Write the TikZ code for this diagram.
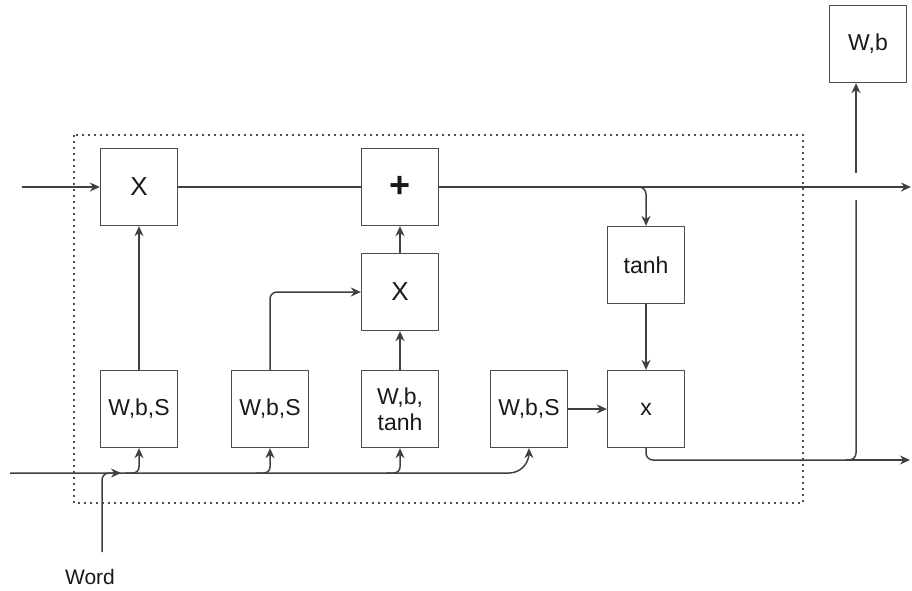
\documentclass[tikz,border=0pt]{standalone}
\usepackage{fontspec}
\setmainfont{Liberation Sans}
\usetikzlibrary{arrows.meta}

\begin{document}
\begin{tikzpicture}[
    x=1pt, y=-1pt,
    every node/.style={font=\fontsize{23}{26}\selectfont, text=black!90},
    box/.style={draw=black!70, line width=1.3pt, minimum width=77pt,
                minimum height=77pt, inner sep=0pt, align=center},
    link/.style={draw=black!75, line width=1.5pt, rounded corners=7pt},
    arr/.style={link, -{Stealth[length=10pt, width=9pt]}},
  ]
    \useasboundingbox (0, 0) rectangle (912, 590);

    % cell frame
    \draw[black!70, line width=1.8pt, dash pattern=on 1.8pt off 4.2pt] (74, 135) rectangle (803, 503);

    % upper row
    \node[box] (mulf)  at (139, 187) {\fontsize{26}{26}\selectfont X};
    \node[box] (add)   at (400, 187) {\fontsize{36}{36}\selectfont\textbf{+}};
    \node[box] (muli)  at (400, 292) {\fontsize{26}{26}\selectfont X};
    \node[box] (tanhc) at (646, 265) {tanh};
    \node[box] (mulo)  at (646, 409) {x};

    % gates
    \node[box] (gatef) at (139, 409) {W,b,S};
    \node[box] (gatei) at (270, 409) {W,b,S};
    \node[box] (cand)  at (400, 409) {W,b,\\tanh};
    \node[box] (gateo) at (529, 409) {W,b,S};

    % output layer
    \node[box] (wb) at (868, 44) {W,b};
    \node[font=\fontsize{21}{24}\selectfont] (word) at (90, 577) {Word};

    % free ends
    \coordinate (cin)  at (22, 187);
    \coordinate (cout) at (911, 187);
    \coordinate (hin)  at (10, 473);
    \coordinate (hout) at (910, 460);
    \coordinate (wbot) at (102, 552);
    \coordinate (hbus) at (121, 473);
    \coordinate (jlo)  at (856, 200);
    \coordinate (jhi)  at (856, 173);

    % cell state
    \draw[arr] (cin) -- (mulf.west);
    \draw[link] (mulf.east) -- (add.west);
    \draw[arr] (add.east) -- (cout);
    \draw[arr] ([xshift=-12pt]tanhc.north |- add.east) -| (tanhc.north);
    \draw[arr] (tanhc.south) -- (mulo.north);

    % gate outputs
    \draw[arr] (gatef.north) -- (mulf.south);
    \draw[arr] (gatei.north) |- (muli.west);
    \draw[arr] (cand.north) -- (muli.south);
    \draw[arr] (muli.north) -- (add.south);
    \draw[arr] (gateo.east) -- (mulo.west);

    % hidden state
    \draw[link] (mulo.south) |- (hout -| jlo) -- (jlo);
    \draw[arr] ([xshift=-10pt]hout -| jlo) -- (hout);
    \draw[arr] (jhi) -- (jhi |- wb.south);

    % input bus
    \draw[arr, rounded corners=20pt] (hin) -| (gateo.south);
    \draw[arr] (wbot) |- (hbus);
    \foreach \g in {gatef, gatei, cand} {
      \draw[arr, rounded corners=6pt] ([xshift=-14pt]\g.south |- hin) -| (\g.south);
    }
  \end{tikzpicture}
\end{document}
